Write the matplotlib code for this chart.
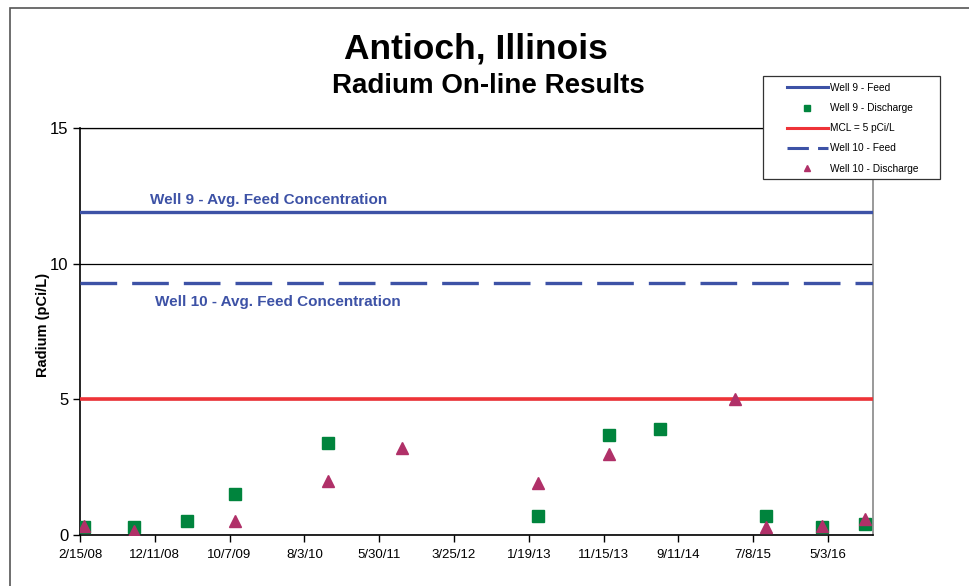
import datetime as dt
import matplotlib
matplotlib.use("Agg")
import matplotlib.pyplot as plt
from matplotlib.lines import Line2D
from matplotlib.patches import Rectangle

# data
tick_labels = ["2/15/08", "12/11/08", "10/7/09", "8/3/10", "5/30/11", "3/25/12",
               "1/19/13", "11/15/13", "9/11/14", "7/8/15", "5/3/16"]
x_end = "10/31/16"

w9_dates = ["3/2/08", "9/19/08", "4/19/09", "10/29/09", "11/6/10", "2/25/13",
            "12/8/13", "6/28/14", "8/29/15", "4/9/16", "9/30/16"]
w9_vals = [0.3, 0.28, 0.5, 1.5, 3.4, 0.7, 3.7, 3.9, 0.7, 0.3, 0.4]

w10_dates = ["3/2/08", "9/19/08", "10/29/09", "11/6/10", "8/29/11", "2/25/13",
             "12/8/13", "4/26/15", "8/29/15", "4/9/16", "9/30/16"]
w10_vals = [0.35, 0.15, 0.5, 2.0, 3.2, 1.9, 3.0, 5.0, 0.3, 0.35, 0.6]

w9_feed = 11.9
w10_feed = 9.3
mcl = 5.0

legend_labels = ['Well 9 - Feed', 'Well 9 - Discharge', 'MCL = 5 pCi/L',
                 'Well 10 - Feed', 'Well 10 - Discharge']


def d(s):
    return dt.datetime.strptime(s, "%m/%d/%y")


blue = '#3d52a6'
red = '#ee3338'
green = '#00843d'
magenta = '#b03068'

plt.rcParams['font.family'] = ['Liberation Sans', 'DejaVu Sans']
fig = plt.figure(figsize=(9.69, 5.86), dpi=100)

# outer chart frame (only left/top edges fall inside the picture)
fig.patches.append(Rectangle((10 / 969, -0.1), 1.2, 1 - 8 / 586 + 0.1,
                             transform=fig.transFigure, fill=False,
                             edgecolor='#555555', lw=1.2))

ax = fig.add_axes([80 / 969, 51 / 586, 793 / 969, 407 / 586])

x0 = d(tick_labels[0])
x1 = d(x_end)

ax.plot([x0, x1], [w9_feed, w9_feed], color=blue, lw=2.4, zorder=3)
ax.plot([d(s) for s in w9_dates], w9_vals, ls='none', marker='s', ms=9,
        color=green, zorder=4)
ax.plot([x0, x1], [mcl, mcl], color=red, lw=2.6, zorder=3)
ax.plot([x0, x1], [w10_feed, w10_feed], color=blue, lw=2.4, dashes=(11, 4.5), zorder=3)
ax.plot([d(s) for s in w10_dates], w10_vals, ls='none', marker='^', ms=9,
        color=magenta, zorder=5)

ax.set_xlim(x0, x1)
ax.set_ylim(0, 15)
ax.set_yticks([0, 5, 10, 15])
ax.yaxis.grid(True, color='black', lw=0.9)
ax.set_axisbelow(True)
ax.set_xticks([d(s) for s in tick_labels])
ax.set_xticklabels(tick_labels, fontsize=9.5)
ax.tick_params(axis='y', labelsize=12, direction='out', length=5, width=1)
ax.tick_params(axis='x', direction='out', length=5, width=1, pad=5)
for s in ['left', 'bottom']:
    ax.spines[s].set_color('black')
    ax.spines[s].set_linewidth(1.2)
ax.spines['top'].set_linewidth(0.9)
ax.spines['right'].set_color('#888888')
ax.spines['right'].set_linewidth(1.2)

ax.set_ylabel('Radium (pCi/L)', fontsize=10.5, fontweight='bold')
ax.yaxis.set_label_coords(-30 / 793, (535 - 325) / 407)

ax.text(x0 + dt.timedelta(days=281), w9_feed + 0.45, 'Well 9 - Avg. Feed Concentration',
        color=blue, fontsize=11, fontweight='bold', ha='left', va='center')
ax.text(x0 + dt.timedelta(days=301), w10_feed - 0.7, 'Well 10 - Avg. Feed Concentration',
        color=blue, fontsize=11, fontweight='bold', ha='left', va='center')

fig.text(476 / 969, 1 - 49 / 586, 'Antioch, Illinois', ha='center', va='center',
         fontsize=25.5, fontweight='bold')
fig.text(488 / 969, 1 - 86 / 586, 'Radium On-line Results', ha='center', va='center',
         fontsize=20, fontweight='bold')

# legend box and entries
fig.patches.append(Rectangle((763 / 969, 1 - 179 / 586), 177 / 969, 103 / 586,
                             transform=fig.transFigure, fill=True, facecolor='white',
                             edgecolor='#333333', lw=0.9, zorder=5))
handles = [
    Line2D([], [], color=blue, lw=2.2),
    Line2D([], [], ls='none', marker='s', ms=4.5, color=green),
    Line2D([], [], color=red, lw=2.2),
    Line2D([], [], color=blue, lw=2.2, dashes=(7, 3)),
    Line2D([], [], ls='none', marker='^', ms=4.5, color=magenta),
]
leg = fig.legend(handles, legend_labels, loc='upper left',
                 bbox_to_anchor=(787 / 969, 1 - 83 / 586),
                 fontsize=7.3, frameon=False, handlelength=4.0, handletextpad=0.2,
                 labelspacing=1.0, borderpad=0, borderaxespad=0)
leg.set_zorder(6)

fig.savefig('out.png', dpi=100)
